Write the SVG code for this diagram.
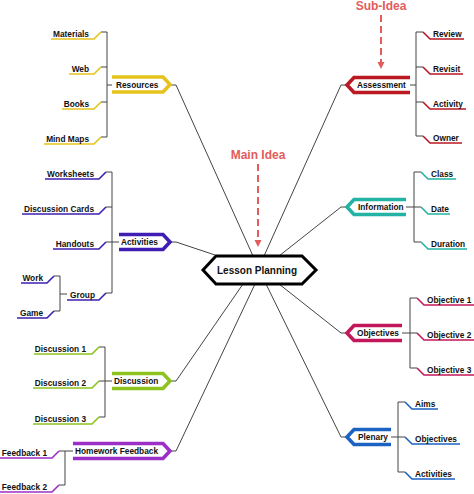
<svg xmlns="http://www.w3.org/2000/svg" width="474" height="494" viewBox="0 0 474 494">
<style>
.conn{stroke:#444;stroke-width:1;fill:none}
.t{font-family:"Liberation Sans",Arial,sans-serif;font-weight:bold;font-size:8.3px;fill:#111}
.te{font-family:"Liberation Sans",Arial,sans-serif;font-weight:bold;font-size:8.3px;fill:#111;text-anchor:end}
.ul{fill:none;stroke-width:1.6}
.nd{fill:none;stroke-width:3.6;stroke-linejoin:miter}
.note{font-family:"Liberation Sans",Arial,sans-serif;font-weight:bold;font-size:12px;fill:#e25c5c;text-anchor:middle}
.dash{stroke:#e25c5c;stroke-width:2;stroke-dasharray:7 4;fill:none}
.y{stroke:#e6c31c}.p{stroke:#3f1fb3}.g{stroke:#8dc21f}.m{stroke:#9c2fc6}
.r{stroke:#bb1822}.c{stroke:#22b3a4}.k{stroke:#c2185b}.b{stroke:#1c62c2}
</style>
<rect width="474" height="494" fill="#fff"/>

<g id="connectors" class="conn">
<path d="M170,85 H176 L253,256"/>
<path d="M170,242 H176 L215,255"/>
<path d="M170,381 H176 L243,284"/>
<path d="M170,451 H176 L255,284"/>
<path d="M347,85 H341 L264,256"/>
<path d="M347,207 H341 L279,256"/>
<path d="M347,333 H341 L279,284"/>
<path d="M347,437 H341 L266,284"/>
<path d="M107,85 H112 M101,32 H107 V137 H101 M101,67 H107 M101,102 H107"/>
<path d="M112,242 H119 M106,172 H112 V293 H106 M106,207 H112 M106,242 H112"/>
<path d="M60,294 H67 M54,276 H60 V311 H54"/>
<path d="M105,381 H112 M99,347 H105 V417 H99 M99,381 H105"/>
<path d="M65,451 H73 M59,451 H65 V485 H59"/>
<path d="M410,85 H416 M423,32 H416 V136 H423 M416,67 H423 M416,102 H423"/>
<path d="M406,207 H414 M421,172 H414 V242 H421 M414,207 H421"/>
<path d="M402,333 H410 M417,298 H410 V368 H417 M410,333 H417"/>
<path d="M391,437 H398 M405,402 H398 V472 H405 M398,437 H405"/>
</g>

<g id="main-idea-note">
<text class="note" x="258" y="159">Main Idea</text>
<line class="dash" x1="258" y1="164" x2="258" y2="242"/>
<path d="M254.5,240 L261.5,240 L258,247 Z" fill="#e25c5c"/>
</g>
<g id="sub-idea-note">
<text class="note" x="381" y="10">Sub-Idea</text>
<line class="dash" x1="381" y1="15" x2="381" y2="64"/>
<path d="M377.5,62 L384.5,62 L381,69 Z" fill="#e25c5c"/>
</g>

<g id="lesson-planning">
<path d="M203,270 L216,256 H302 L316,270 L302,284 H216 Z" fill="#fff" stroke="#000" stroke-width="3" stroke-linejoin="miter"/>
<text x="257" y="273.5" style="font-family:'Liberation Sans',Arial,sans-serif;font-weight:bold;font-size:10px;fill:#111;text-anchor:middle">Lesson Planning</text>
</g>

<g id="resources"><path class="nd y" d="M112,77 H163 L170,84.5 L163,92 H112"/><text class="t" x="116" y="88">Resources</text></g>
<g id="activities"><path class="nd p" d="M119,234.5 H163 L170,242 L163,249.5 H119"/><text class="t" x="121" y="245">Activities</text></g>
<g id="discussion"><path class="nd g" d="M112,373.5 H163 L170,381 L163,388.5 H112"/><text class="t" x="114" y="384">Discussion</text></g>
<g id="homework-feedback"><path class="nd m" d="M73,443.5 H163 L170,451 L163,458.5 H73"/><text class="t" x="75" y="454">Homework Feedback</text></g>
<g id="assessment"><path class="nd r" d="M410,77.5 H354 L347,85 L354,92.5 H410"/><text class="t" x="357" y="88">Assessment</text></g>
<g id="information"><path class="nd c" d="M406,199.5 H354 L347,207 L354,214.5 H406"/><text class="t" x="358" y="210">Information</text></g>
<g id="objectives"><path class="nd k" d="M402,325.5 H354 L347,333 L354,340.5 H402"/><text class="t" x="357" y="336">Objectives</text></g>
<g id="plenary"><path class="nd b" d="M391,429.5 H354 L347,437 L354,444.5 H391"/><text class="t" x="358" y="440">Plenary</text></g>

<g id="materials"><path class="ul y" d="M101,32 L94,39 H51"/><text class="te" x="89" y="36.5">Materials</text></g>
<g id="web"><path class="ul y" d="M101,67 L94,74 H69"/><text class="te" x="89" y="71.5">Web</text></g>
<g id="books"><path class="ul y" d="M101,102 L94,109 H62"/><text class="te" x="89" y="106.5">Books</text></g>
<g id="mind-maps"><path class="ul y" d="M101,137 L94,144 H44"/><text class="te" x="89" y="141.5">Mind Maps</text></g>

<g id="worksheets"><path class="ul p" d="M106,172 L99,179 H45"/><text class="te" x="94" y="176.5">Worksheets</text></g>
<g id="discussion-cards"><path class="ul p" d="M106,207 L99,214 H22"/><text class="te" x="94" y="211.5">Discussion Cards</text></g>
<g id="handouts"><path class="ul p" d="M106,242 L99,249 H53"/><text class="te" x="94" y="246.5">Handouts</text></g>
<g id="group"><path class="ul p" d="M106,293 L99,300 H67"/><text class="te" x="95" y="297.5">Group</text></g>
<g id="work"><path class="ul p" d="M54,276 L47,283 H21"/><text class="te" x="43" y="280.5">Work</text></g>
<g id="game"><path class="ul p" d="M54,311 L47,318 H17"/><text class="te" x="43" y="315.5">Game</text></g>

<g id="discussion-1"><path class="ul g" d="M99,347 L92,354 H34"/><text class="te" x="86" y="351.5">Discussion 1</text></g>
<g id="discussion-2"><path class="ul g" d="M99,381 L92,388 H33"/><text class="te" x="86" y="385.5">Discussion 2</text></g>
<g id="discussion-3"><path class="ul g" d="M99,417 L92,424 H33"/><text class="te" x="86" y="421.5">Discussion 3</text></g>

<g id="feedback-1"><path class="ul m" d="M59,451 L52,458 H0"/><text class="te" x="47" y="455.5">Feedback 1</text></g>
<g id="feedback-2"><path class="ul m" d="M59,485 L52,492 H0"/><text class="te" x="47" y="489.5">Feedback 2</text></g>

<g id="review"><path class="ul r" d="M423,32 L430,39 H464"/><text class="t" x="433" y="36.5">Review</text></g>
<g id="revisit"><path class="ul r" d="M423,67 L430,74 H463"/><text class="t" x="433" y="71.5">Revisit</text></g>
<g id="activity"><path class="ul r" d="M423,102 L430,109 H466"/><text class="t" x="433" y="106.5">Activity</text></g>
<g id="owner"><path class="ul r" d="M423,136 L430,143 H462"/><text class="t" x="433" y="140.5">Owner</text></g>

<g id="class"><path class="ul c" d="M421,172 L428,179 H456"/><text class="t" x="431" y="176.5">Class</text></g>
<g id="date"><path class="ul c" d="M421,207 L428,214 H450"/><text class="t" x="431" y="211.5">Date</text></g>
<g id="duration"><path class="ul c" d="M421,242 L428,249 H467"/><text class="t" x="431" y="246.5">Duration</text></g>

<g id="objective-1"><path class="ul k" d="M417,298 L424,305 H474"/><text class="t" x="427" y="302.5">Objective 1</text></g>
<g id="objective-2"><path class="ul k" d="M417,333 L424,340 H474"/><text class="t" x="427" y="337.5">Objective 2</text></g>
<g id="objective-3"><path class="ul k" d="M417,368 L424,375 H474"/><text class="t" x="427" y="372.5">Objective 3</text></g>

<g id="aims"><path class="ul b" d="M405,402 L412,409 H438"/><text class="t" x="415" y="406.5">Aims</text></g>
<g id="plenary-objectives"><path class="ul b" d="M405,437 L412,444 H460"/><text class="t" x="415" y="441.5">Objectives</text></g>
<g id="plenary-activities"><path class="ul b" d="M405,472 L412,479 H455"/><text class="t" x="415" y="476.5">Activities</text></g>
</svg>
